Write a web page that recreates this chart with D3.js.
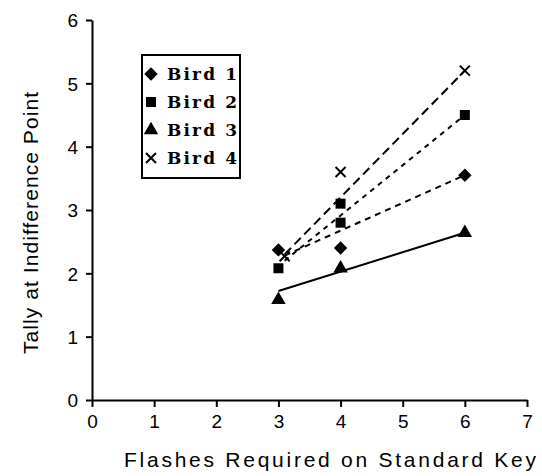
<!DOCTYPE html>
<html>
<head>
<meta charset="utf-8">
<script src="https://cdn.jsdelivr.net/npm/d3@7"></script>
<style>
  body { margin: 0; background: #fff; }
  svg { display: block; }
</style>
</head>
<body>
<svg id="chart" width="542" height="476"></svg>
<script>
// values
const birds = ['Bird 1', 'Bird 2', 'Bird 3', 'Bird 4'];
const xTicks = [0, 1, 2, 3, 4, 5, 6, 7];
const yTicks = [0, 1, 2, 3, 4, 5, 6];

const bird1Pts = [[3, 2.37], [4, 2.4], [6, 3.55]];
const bird2Pts = [[3, 2.08], [4, 3.1], [4, 2.8], [6, 4.5]];
const bird3Pts = [[3, 1.58], [4, 2.08], [6, 2.64]];
const bird4Pts = [[3.1, 2.27], [4, 3.6], [6, 5.2]];

// fitted lines: [x start, y start, x end, y end]
const bird1Fit = [3.1, 2.28, 6, 3.55];
const bird2Fit = [3.1, 2.2, 6, 4.5];
const bird3Fit = [3.0, 1.72, 6, 2.64];
const bird4Fit = [3.1, 2.3, 6, 5.2];

const series = [
  { name: birds[0], pts: bird1Pts, fit: bird1Fit, shape: 'diamond', dash: '6,5' },
  { name: birds[1], pts: bird2Pts, fit: bird2Fit, shape: 'square', dash: '5,5' },
  { name: birds[2], pts: bird3Pts, fit: bird3Fit, shape: 'triangle', dash: null },
  { name: birds[3], pts: bird4Pts, fit: bird4Fit, shape: 'times', dash: '9,5' }
];

const svg = d3.select('#chart');
const margin = { left: 92, top: 20, right: 15, bottom: 76 };

const x = d3.scaleLinear().domain([0, 7]).range([margin.left, 527]);
const y = d3.scaleLinear().domain([0, 6]).range([400, margin.top]);

// axes
const xAxis = svg.append('g')
  .attr('transform', 'translate(0,400)')
  .call(d3.axisBottom(x).tickValues(xTicks).tickFormat(d3.format('d'))
    .tickSize(7).tickSizeOuter(0).tickPadding(8));
const yAxis = svg.append('g')
  .attr('transform', 'translate(' + margin.left + ',0)')
  .call(d3.axisLeft(y).tickValues(yTicks).tickFormat(d3.format('d'))
    .tickSize(6).tickSizeOuter(0).tickPadding(8));

[xAxis, yAxis].forEach(a => {
  a.select('.domain').attr('stroke', '#000').attr('stroke-width', 2);
  a.selectAll('.tick line').attr('stroke', '#000').attr('stroke-width', 2);
  a.selectAll('.tick text')
    .attr('fill', '#000')
    .style('font-family', '"Liberation Sans", Arial, sans-serif')
    .style('font-size', '19px');
});
yAxis.selectAll('.tick text').attr('dy', '0.36em');

// axis titles
svg.append('text')
  .attr('x', 330).attr('y', 467)
  .attr('text-anchor', 'middle')
  .attr('textLength', 412).attr('lengthAdjust', 'spacing')
  .style('font-family', '"Liberation Sans", Arial, sans-serif')
  .style('font-size', '21px')
  .text('Flashes Required on Standard Key');

svg.append('text')
  .attr('transform', 'translate(38,223) rotate(-90)')
  .attr('text-anchor', 'middle')
  .attr('textLength', 262).attr('lengthAdjust', 'spacing')
  .style('font-family', '"Liberation Sans", Arial, sans-serif')
  .style('font-size', '21px')
  .text('Tally at Indifference Point');

// markers
function marker(sel, shape) {
  if (shape === 'times') {
    const s = 5;
    sel.append('path')
      .attr('d', 'M' + (-s) + ',' + (-s) + 'L' + s + ',' + s + 'M' + s + ',' + (-s) + 'L' + (-s) + ',' + s)
      .attr('fill', 'none').attr('stroke', '#000').attr('stroke-width', 2);
  } else if (shape === 'diamond') {
    sel.append('path')
      .attr('d', d3.symbol().type(d3.symbolSquare).size(90)())
      .attr('transform', 'rotate(45)')
      .attr('fill', '#000');
  } else {
    const type = shape === 'square' ? d3.symbolSquare : d3.symbolTriangle;
    const size = shape === 'square' ? 100 : 90;
    sel.append('path')
      .attr('d', d3.symbol().type(type).size(size)())
      .attr('fill', '#000');
  }
}

// fit lines
series.forEach(s => {
  svg.append('line')
    .attr('x1', x(s.fit[0])).attr('y1', y(s.fit[1]))
    .attr('x2', x(s.fit[2])).attr('y2', y(s.fit[3]))
    .attr('stroke', '#000').attr('stroke-width', 2)
    .attr('stroke-dasharray', s.dash);
});

// points
series.forEach(s => {
  s.pts.forEach(p => {
    const g = svg.append('g').attr('transform', 'translate(' + x(p[0]) + ',' + y(p[1]) + ')');
    marker(g, s.shape);
  });
});

// legend
const legend = svg.append('g');
legend.append('rect')
  .attr('x', 142).attr('y', 55).attr('width', 98).attr('height', 123)
  .attr('fill', '#fff').attr('stroke', '#000').attr('stroke-width', 2);

series.forEach((s, i) => {
  const ly = 74 + i * 28;
  const g = legend.append('g').attr('transform', 'translate(151,' + ly + ')');
  marker(g, s.shape);
  legend.append('text')
    .attr('x', 167).attr('y', ly + 6)
    .attr('textLength', 70).attr('lengthAdjust', 'spacing')
    .style('font-family', '"DejaVu Serif", "Liberation Serif", serif')
    .style('font-weight', 'bold')
    .style('font-size', '17px')
    .text(s.name);
});
</script>
</body>
</html>
